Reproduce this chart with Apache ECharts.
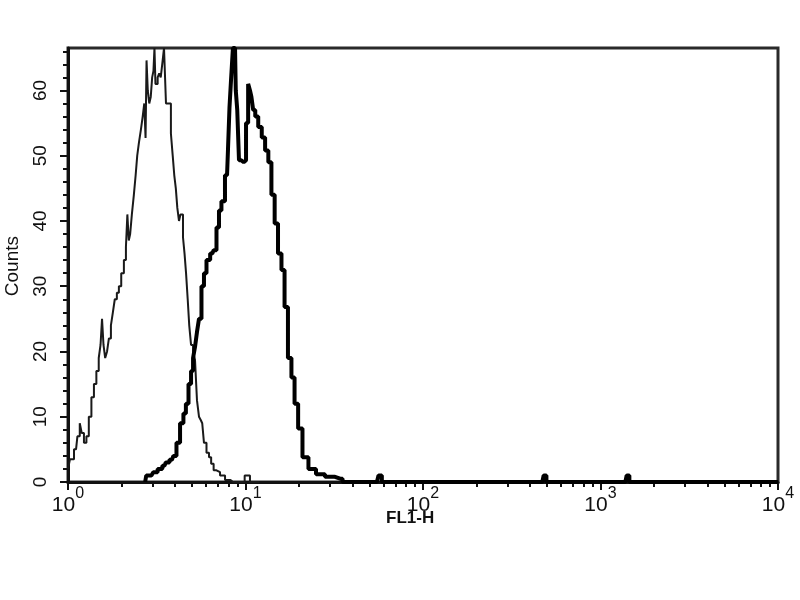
<!DOCTYPE html>
<html>
<head>
<meta charset="utf-8">
<script src="https://cdn.jsdelivr.net/npm/echarts@6/dist/echarts.min.js"></script>
<style>html,body{margin:0;padding:0;background:#fff}#c{width:800px;height:600px}</style>
</head>
<body>
<div id="c"></div>
<script>
// ---- data ----
const xTicks = [1, 10, 100, 1000, 10000];
const xTickExponents = ['0', '1', '2', '3', '4'];
const xMinorTicks = [2,3,4,5,6,7,8,9,20,30,40,50,60,70,80,90,200,300,400,500,600,700,800,900,2000,3000,4000,5000,6000,7000,8000,9000];
const yTicks = [0, 10, 20, 30, 40, 50, 60];
const yMinorTicks = [2,4,6,8,12,14,16,18,22,24,26,28,32,34,36,38,42,44,46,48,52,54,56,58,62,64,66];
const yMax = 66.5;

const controlX = [1.0,1.053,1.11,1.15,1.18,1.21,1.25,1.29,1.33,1.38,1.42,1.47,1.51,1.54,1.57,1.60,1.64,1.68,1.72,1.77,1.81,1.86,1.91,1.96,2.03,2.10,2.14,2.18,2.22,2.26,2.32,2.38,2.43,2.48,2.54,2.61,2.66,2.72,2.75,2.79,2.84,2.90,2.95,3.01,3.05,3.09,3.13,3.17,3.23,3.30,3.36,3.43,3.52,3.61,3.68,3.75,3.85,3.93,4.01,4.09,4.17,4.27,4.33,4.39,4.50,4.57,4.68,4.77,4.87,5.00,5.13,5.26,5.40,5.54,5.65,5.76,5.91,6.15,6.31,6.5,6.73,7.0,7.38,7.97,8.5,9.5,10.3,10.9,12];
const controlY = [2,3.5,5,7,9,7.5,6,7,10,13,15,17,19,21,25,21,19,20,22,24,26,28,29,30,32,34,36,41,37,38,41,44,47,50,52,54,56,58,52.7,64.6,60,58,59,62,63,66.5,61,61,62,62.6,62,64,66.5,58,58,58,53.4,50,47,45,42,40,41,41,37.5,35,32,28,24,21,20,18.7,12.5,10,9.5,9,6,4.5,3.8,2.8,1.8,1.5,1,0.3,0,0,1,0,0];

const stainedX = [2.72,2.8,2.95,3.1,3.30,3.5,3.61,3.85,4.0,4.17,4.39,4.55,4.68,4.87,5.00,5.13,5.26,5.40,5.54,5.76,5.91,6.15,6.5,6.73,7.0,7.18,7.46,7.87,8.07,8.18,8.39,8.6,8.73,8.9,9.07,9.31,9.6,9.94,10.2,10.5,10.7,10.9,11.2,11.5,12.1,12.6,13.2,13.7,14.3,14.9,15.6,16.3,16.9,17.8,18.5,19.3,20.3,21.6,23.7,26.3,29.9,34.1,36.4,55,57.3,60,470,487,505,1380,1429,1480,10000];
const stainedY = [0,1,1,1.5,2,2.5,3,3.4,4,6,9,10.5,12,15,17,19,20.7,23,25,30,32,34,35,35.5,39,41.6,43,47,51,57.4,61.5,66.5,66.5,60,57,49.3,49,49.3,55,61,60,59,57,56,54.4,52.8,50.8,49,44,39.6,35,32.5,26.8,19,16,12,8.2,3.8,2,1.2,0.8,0.5,0,0,1,0,0,1,0,0,1,0,0];

const xName = 'FL1-H';
const yName = 'Counts';

const pair = (xs, ys) => xs.map((x, i) => [x, ys[i]]);

const chart = echarts.init(document.getElementById('c'), null, {renderer: 'canvas'});
const font = 'Liberation Sans, Arial, sans-serif';
const ink = '#111';

chart.setOption({
  animation: false,
  backgroundColor: '#fff',
  grid: {left: 68, right: 22, top: 48, bottom: 118, show: true, borderColor: '#2a2a2a', borderWidth: 3, backgroundColor: 'transparent'},
  xAxis: [
    {
      type: 'log', logBase: 10, min: 1, max: 10000, gridIndex: 0, position: 'bottom',
      axisLine: {show: true, onZero: false, lineStyle: {color: ink, width: 3}},
      axisTick: {show: true, inside: false, length: 8, customValues: xTicks, lineStyle: {color: ink, width: 2}},
      axisLabel: {
        show: true, margin: 4, customValues: xTicks,
        textStyle: {fontSize: 21},
        formatter: function (v) {
          const i = xTicks.indexOf(v);
          return '{b|10}{s|' + (i >= 0 ? xTickExponents[i] : '') + '}';
        },
        rich: {
          b: {fontFamily: 'Liberation Sans', fontSize: 21, fontWeight: 'normal', fill: ink, color: ink, lineHeight: 30, verticalAlign: 'bottom'},
          s: {fontFamily: 'Liberation Sans', fontSize: 16, fontWeight: 'normal', fill: ink, color: ink, lineHeight: 14, verticalAlign: 'top'}
        }
      },
      splitLine: {show: false}
    },
    {
      type: 'log', logBase: 10, min: 1, max: 10000, gridIndex: 0, position: 'bottom',
      axisLine: {show: false},
      axisTick: {show: true, inside: false, length: 5, customValues: xMinorTicks, lineStyle: {color: ink, width: 2}},
      axisLabel: {show: false},
      splitLine: {show: false}
    }
  ],
  yAxis: [
    {
      type: 'value', min: 0, max: yMax, gridIndex: 0, position: 'left',
      axisLine: {show: true, onZero: false, lineStyle: {color: ink, width: 3}},
      axisTick: {show: true, inside: false, length: 8, customValues: yTicks, lineStyle: {color: ink, width: 2}},
      axisLabel: {show: true, rotate: 90, margin: 18, customValues: yTicks, fontFamily: font, fontSize: 19, color: ink},
      splitLine: {show: false}
    },
    {
      type: 'value', min: 0, max: yMax, gridIndex: 0, position: 'left',
      axisLine: {show: false},
      axisTick: {show: true, inside: false, length: 5, customValues: yMinorTicks, lineStyle: {color: ink, width: 2}},
      axisLabel: {show: false},
      splitLine: {show: false}
    }
  ],
  graphic: [
    {type: 'text', left: 3, top: 236, rotation: Math.PI / 2, style: {text: yName, font: '19px ' + font, fill: ink}},
    {type: 'text', left: 386, top: 510, style: {text: xName, font: 'bold 17px ' + font, fill: ink}}
  ],
  series: [
    {
      name: 'control', type: 'line', xAxisIndex: 0, yAxisIndex: 0, step: 'middle',
      data: pair(controlX, controlY), showSymbol: false, symbol: 'none', clip: true,
      lineStyle: {color: '#1a1a1a', width: 2}
    },
    {
      name: 'stained', type: 'line', xAxisIndex: 0, yAxisIndex: 0, step: 'middle',
      data: pair(stainedX, stainedY), showSymbol: false, symbol: 'none', clip: true,
      lineStyle: {color: '#000', width: 4}
    }
  ]
});
</script>
</body>
</html>
